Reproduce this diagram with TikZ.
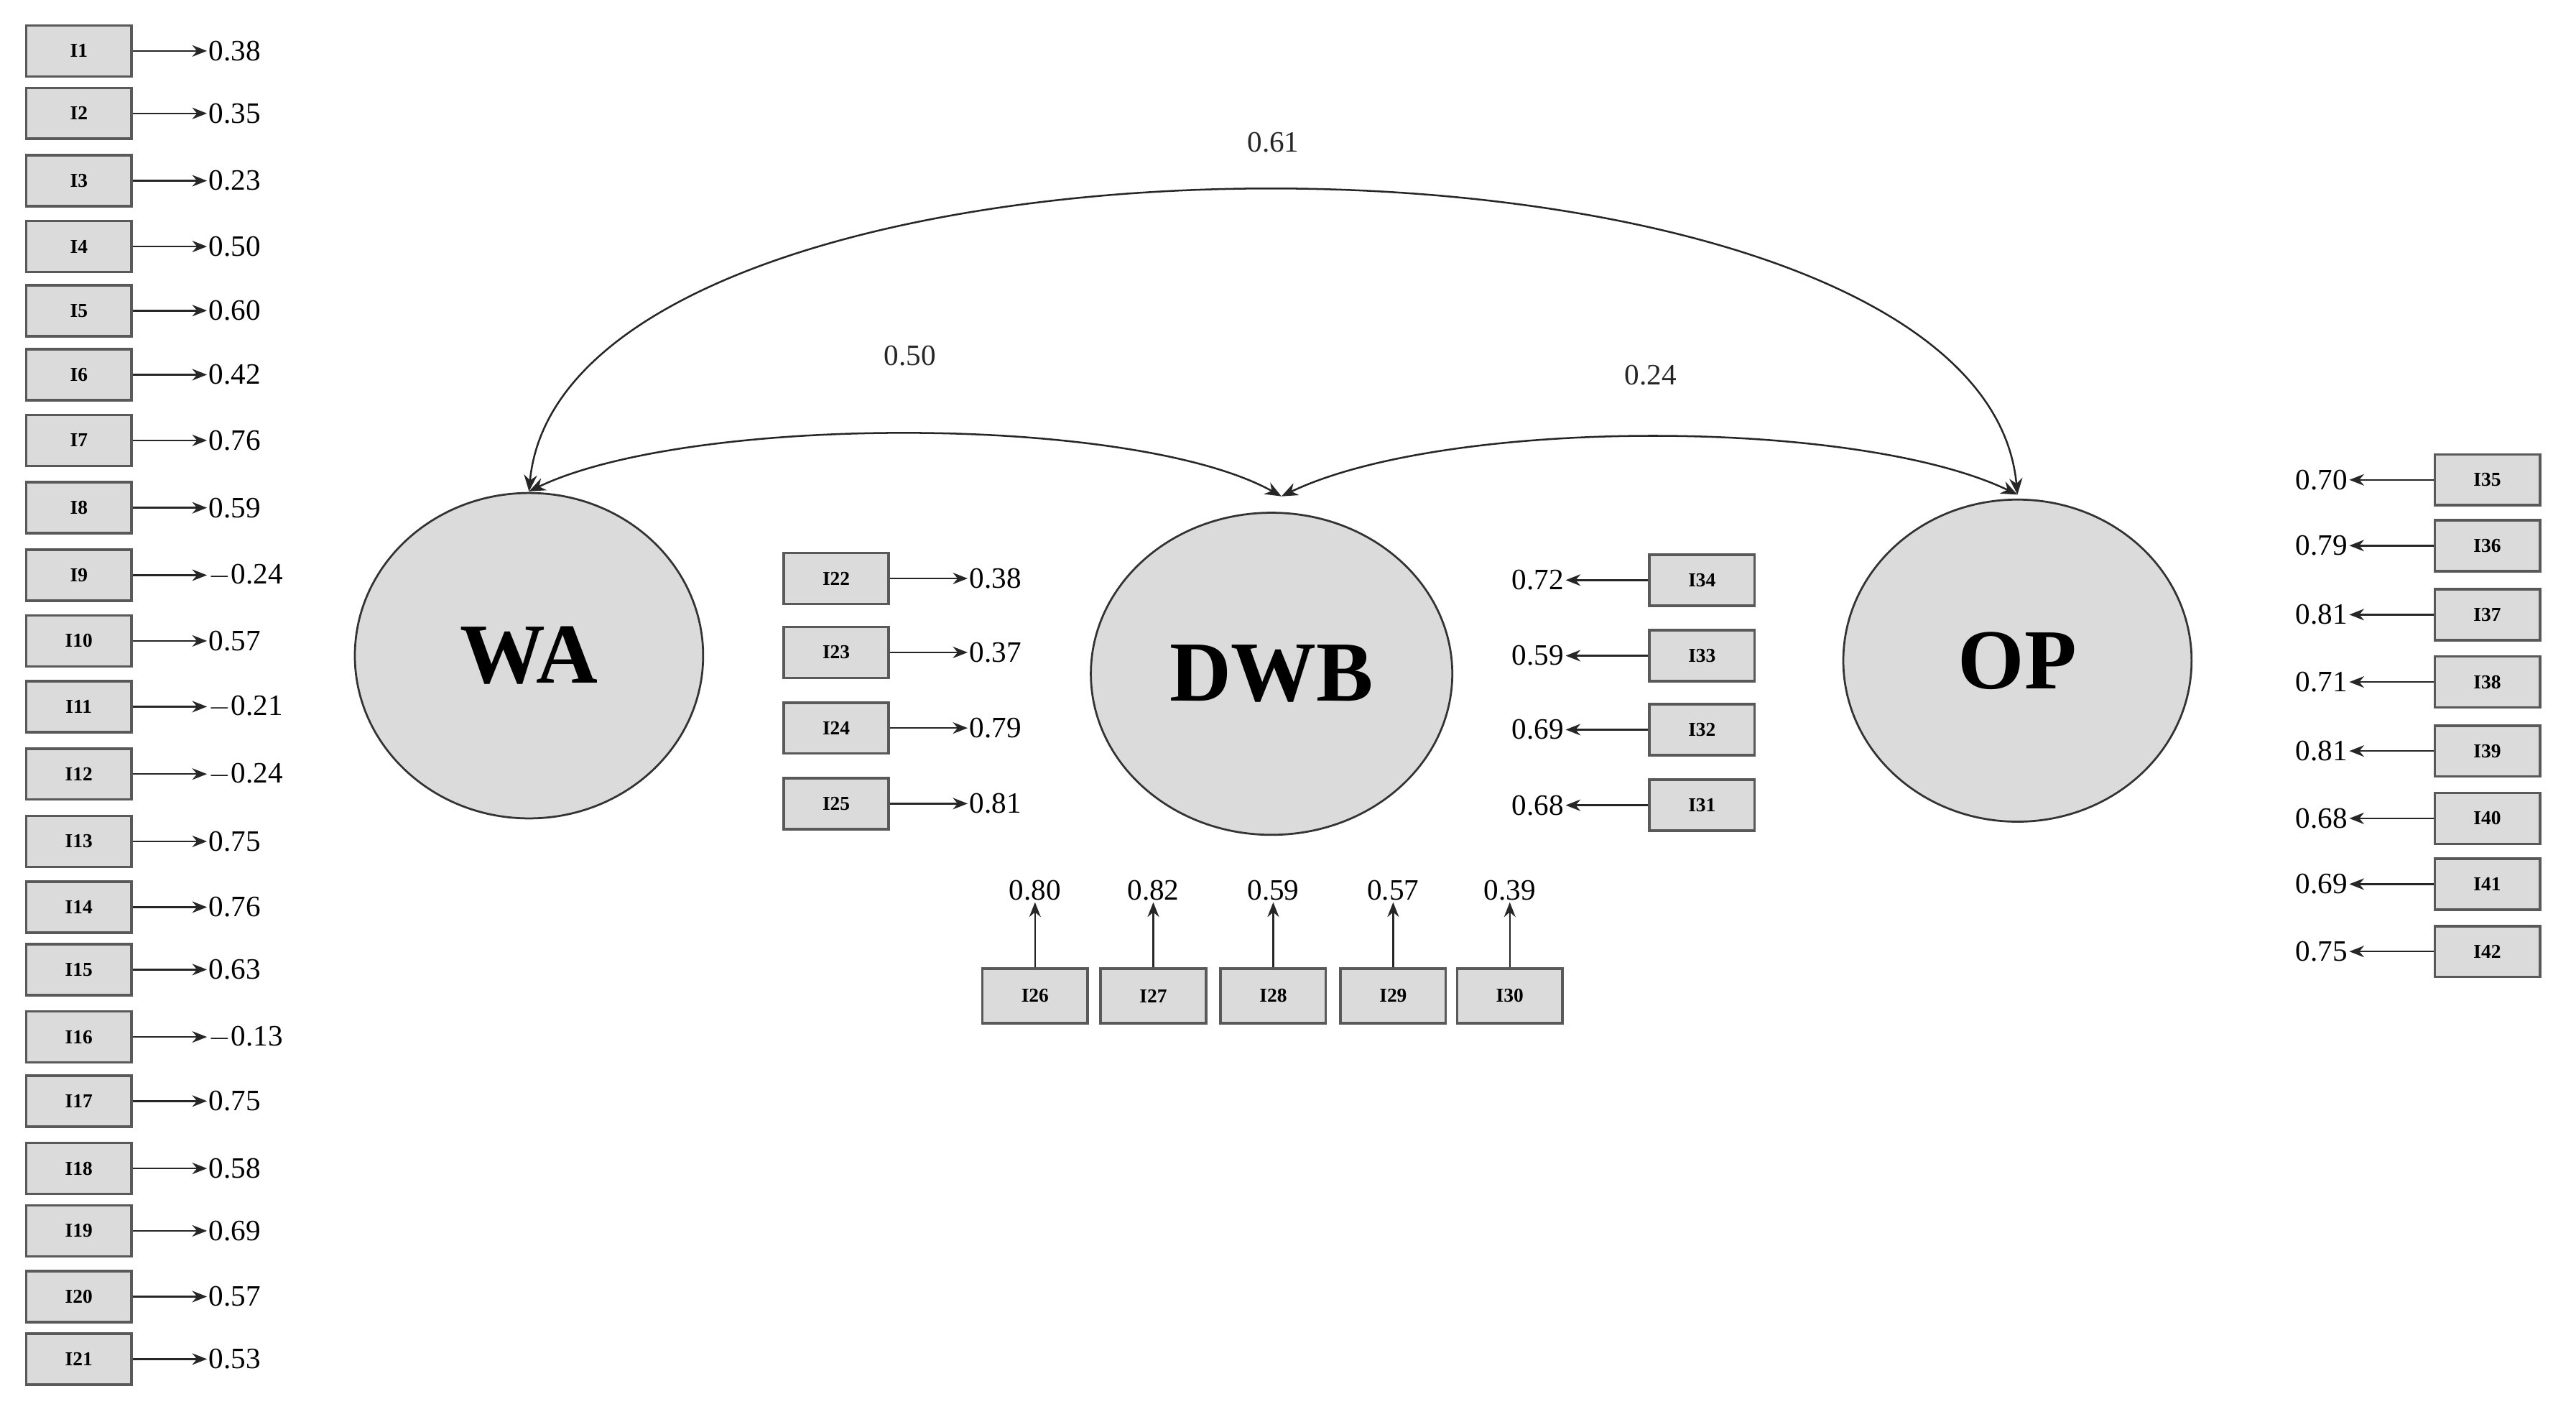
\documentclass[tikz,border=0pt]{standalone}
\usepackage{fontspec}
\setmainfont{Liberation Serif}
\usetikzlibrary{arrows.meta,shapes.geometric}
\begin{document}
\begin{tikzpicture}[x=1pt,y=-1pt,
  box/.style={draw=black!65,line width=1.6pt,fill=black!14,minimum width=64pt,minimum height=31pt,inner sep=0pt,font=\fontsize{12}{12}\selectfont\bfseries},
  lat/.style={draw=black!80,line width=1.2pt,fill=black!14,font=\fontsize{52}{52}\selectfont\bfseries},
  val/.style={font=\fontsize{18}{18}\selectfont,inner sep=1pt},
  arr/.style={-{Stealth[length=9pt,width=7pt]},line width=1.1pt,black!85},
  cov/.style={{Stealth[length=10pt,width=8pt]}-{Stealth[length=10pt,width=8pt]},line width=1.1pt,black!85}]
\useasboundingbox (0,0) rectangle (1568,862);
% left column
\foreach \n/\y/\v in {1/31/0.38,2/69/0.35,3/110/0.23,4/150/0.50,5/189/0.60,6/228/0.42,7/268/0.76,8/309/0.59,9/350/$-$0.24,10/390/0.57,11/430/$-$0.21,12/471/$-$0.24,13/512/0.75,14/552/0.76,15/590/0.63,16/631/$-$0.13,17/670/0.75,18/711/0.58,19/749/0.69,20/789/0.57,21/827/0.53}{
  \node[box] (i\n) at (48,\y) {I\n};
  \node[val,anchor=west] (v\n) at (126,\y) {\v};
  \draw[arr] (i\n.east) -- (v\n.west);
}
% latent
\node[lat,ellipse,minimum width=212pt,minimum height=198pt] (WA) at (322,399) {WA};
\node[lat,ellipse,minimum width=220pt,minimum height=196pt] (DWB) at (774,410) {DWB};
\node[lat,ellipse,minimum width=212pt,minimum height=196pt] (OP) at (1228,402) {OP};
% I22-25
\foreach \n/\y/\v in {22/352/0.38,23/397/0.37,24/443/0.79,25/489/0.81}{
  \node[box] (i\n) at (509,\y) {I\n};
  \node[val,anchor=west] (v\n) at (589,\y) {\v};
  \draw[arr] (i\n.east) -- (v\n.west);
}
% I31-34
\foreach \n/\y/\v in {34/353/0.72,33/399/0.59,32/444/0.69,31/490/0.68}{
  \node[box] (i\n) at (1036,\y) {I\n};
  \node[val,anchor=east] (v\n) at (953,\y) {\v};
  \draw[arr] (i\n.west) -- (v\n.east);
}
% I35-42
\foreach \n/\y/\v in {35/292/0.70,36/332/0.79,37/374/0.81,38/415/0.71,39/457/0.81,40/498/0.68,41/538/0.69,42/579/0.75}{
  \node[box] (i\n) at (1514,\y) {I\n};
  \node[val,anchor=east] (v\n) at (1430,\y) {\v};
  \draw[arr] (i\n.west) -- (v\n.east);
}
% I26-30
\foreach \n/\x/\v in {26/630/0.80,27/702/0.82,28/775/0.59,29/848/0.57,30/919/0.39}{
  \node[box,minimum height=33pt] (i\n) at (\x,606) {I\n};
  \node[val,anchor=south] (v\n) at (\x,549) {\v};
  \draw[arr] (i\n.north) -- (v\n.south);
}
% covariances
\coordinate (wt) at (322,299);
\coordinate (dt) at (780,302);
\coordinate (ot) at (1228,301);
\draw[cov] (wt) .. controls (420,252) and (690,252) .. (dt) node[pos=0.5,above=40pt,val] {0.50};
\draw[cov] (dt) .. controls (880,254) and (1130,254) .. (ot) node[pos=0.5,above=30pt,val] {0.24};
\draw[cov] (wt) .. controls (345,55) and (1205,55) .. (ot) node[pos=0.5,above=22pt,val] {0.61};
\end{tikzpicture}
\end{document}
